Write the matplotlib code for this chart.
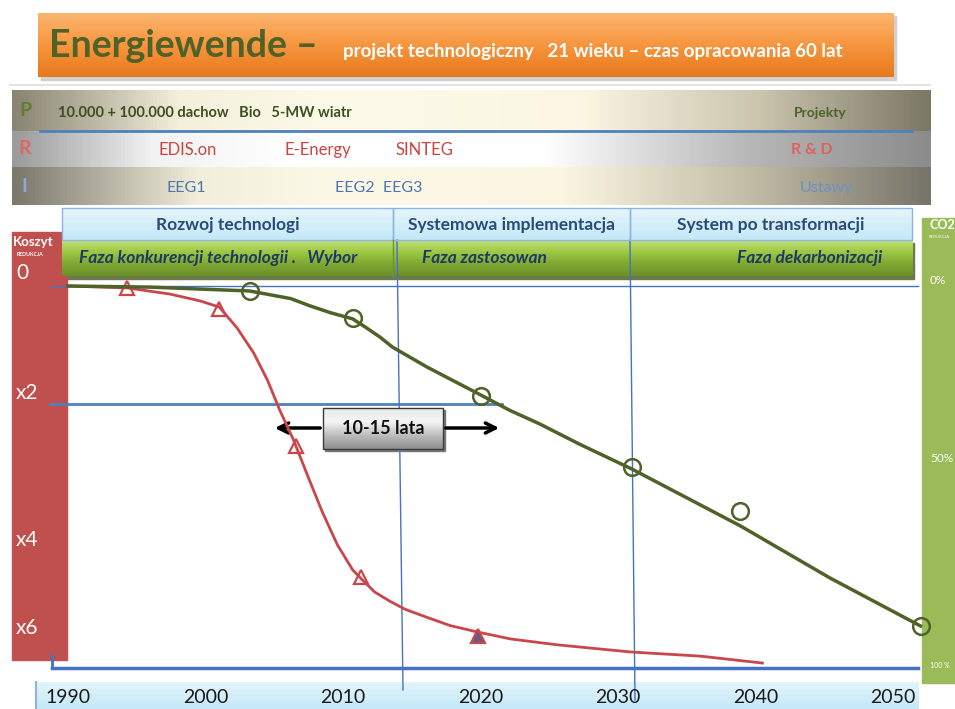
import numpy as np
import matplotlib.pyplot as plt
from matplotlib.colors import LinearSegmentedColormap
from matplotlib.patches import Rectangle

plt.rcParams['font.family'] = ['Lato', 'DejaVu Sans']

# ---- dane ----
lata = [1990, 2000, 2010, 2020, 2030, 2040, 2050]
koszt_lbl = ['0', 'x2', 'x4', 'x6']
co2_lbl = ['0%', '50%', '100 %']
fazy = ['Rozwoj technologi', 'Systemowa implementacja', 'System po transformacji']
fazy2 = ['Faza konkurencji technologii .   Wybor', 'Faza zastosowan', 'Faza dekarbonizacji']

# linia CO2 (zielona) - rok, % redukcji
co2_x = [1990.0, 1996.0, 2003.2, 2006.2, 2007.6, 2009.1, 2010.7, 2011.6, 2012.7, 2013.6,
         2016.1, 2020.0, 2022.1, 2024.3, 2027.2, 2031.0, 2038.9, 2045.4, 2052.0]
co2_y = [0.0, 0.3, 1.3, 3.3, 5.2, 7.0, 8.6, 10.7, 13.4, 16.0,
         21.2, 28.5, 32.5, 36.1, 41.4, 47.9, 62.8, 76.4, 89.0]
co2_pkt_x = [2003.2, 2010.7, 2020.0, 2031.0, 2038.9, 2052.0]
co2_pkt_y = [1.3, 8.4, 28.8, 47.4, 58.9, 89.0]

# linia kosztu (czerwona)
koszt_x = [1990.0, 1994.3, 1997.4, 1999.6, 2001.0, 2002.3, 2003.5, 2004.5, 2005.4, 2006.4,
           2007.5, 2008.5, 2009.6, 2010.7, 2011.4, 2012.3, 2013.4, 2014.5, 2016.0, 2017.8,
           2019.8, 2022.2, 2025.5, 2030.9, 2036.0, 2040.5]
koszt_y = [0.0, 0.5, 2.1, 3.9, 5.5, 11.0, 17.5, 24.6, 32.5, 40.3,
           50.3, 59.2, 67.8, 74.3, 76.9, 80.1, 82.5, 84.6, 86.6, 88.9,
           90.6, 92.4, 93.9, 95.8, 96.9, 98.7]
koszt_pkt_x = [1994.3, 2001.0, 2006.6, 2011.3]
koszt_pkt_y = [0.5, 6.0, 41.9, 76.2]
koszt_pkt2_x = [2019.8]
koszt_pkt2_y = [91.6]


def gradient(ax, x0, x1, y0, y1, colors, vertical=True, z=1):
    cmap = LinearSegmentedColormap.from_list('g', colors)
    g = np.linspace(0, 1, 256)
    img = g.reshape(-1, 1) if vertical else g.reshape(1, -1)
    ax.imshow(img, cmap=cmap, extent=(x0, x1, y1, y0), aspect='auto',
              zorder=z, interpolation='bicubic')


fig = plt.figure(figsize=(9.55, 7.09), dpi=100)
bg = fig.add_axes([0, 0, 1, 1])
bg.axis('off')

# tytul
bg.plot([10, 930], [85, 85], color='#e4e4e4', lw=1.5, zorder=1)
bg.add_patch(Rectangle((41, 16), 855, 64, color='#d0d0d0', zorder=1))
gradient(bg, 38, 893, 13, 77, ['#fbb56e', '#f7963f', '#e8781c'], z=2)
bg.text(49, 46, 'Energiewende \u2013', fontsize=27, fontweight='bold', color='#4f6228',
        va='center', ha='left', zorder=3)
bg.text(343, 51, 'projekt technologiczny   21 wieku \u2013 czas opracowania 60 lat',
        fontsize=13.5, fontweight='bold', color='white', va='center', ha='left', zorder=3)

# pasy P / R / I
gradient(bg, 12, 930, 90, 131, [(0, '#8a8472'), (0.18, '#f4f0dc'), (0.35, '#fdfaea'),
                                 (0.62, '#fbf7e4'), (0.82, '#c9c3ac'), (1, '#7c7866')],
         vertical=False)
gradient(bg, 12, 930, 131, 167, [(0, '#9b9b9b'), (0.15, '#f2f2f2'), (0.3, '#ffffff'),
                                  (0.58, '#ffffff'), (0.8, '#b8b8b8'), (1, '#8c8c8c')],
         vertical=False)
gradient(bg, 12, 930, 167, 205, [(0, '#7c796c'), (0.2, '#f2eedc'), (0.35, '#fdf9e8'),
                                  (0.6, '#fbf6e2'), (0.8, '#c4bea8'), (1, '#77746a')],
         vertical=False)
bg.plot([40, 912], [131, 131], color='#4f81bd', lw=2, zorder=3)

bg.text(25, 111, 'P', fontsize=14, fontweight='bold', color='#5f7f2e', ha='center', va='center', zorder=3)
bg.text(58, 113, '10.000 + 100.000 dachow   Bio   5-MW wiatr', fontsize=10.5, fontweight='bold',
        color='#3f4f1f', ha='left', va='center', zorder=3)
bg.text(820, 113, 'Projekty', fontsize=10, fontweight='bold', color='#4f6228',
        ha='center', va='center', zorder=3)
bg.text(25, 148, 'R', fontsize=14, fontweight='bold', color='#e06666', ha='center', va='center', zorder=3)
for t, x in zip(['EDIS.on', 'E-Energy', 'SINTEG'], [188, 318, 424]):
    bg.text(x, 150, t, fontsize=12, color='#c9453f', ha='center', va='center', zorder=3)
bg.text(812, 150, 'R & D', fontsize=11.5, fontweight='bold', color='#e06060',
        ha='center', va='center', zorder=3)
bg.text(24, 186, 'I', fontsize=14, fontweight='bold', color='#8aa8d4', ha='center', va='center', zorder=3)
bg.text(186, 188, 'EEG1', fontsize=11.5, color='#4f74ad', ha='center', va='center', zorder=3)
bg.text(379, 188, 'EEG2  EEG3', fontsize=11.5, color='#4f74ad', ha='center', va='center', zorder=3)
bg.text(826, 188, 'Ustawy', fontsize=11.5, color='#6f90c4', ha='center', va='center', zorder=3)

# naglowki faz
granice = [62, 393, 630, 912]
for i in range(3):
    gradient(bg, granice[i], granice[i + 1], 208, 240, ['#e6f6fc', '#c4e8f7'], z=2)
    bg.add_patch(Rectangle((granice[i], 208), granice[i + 1] - granice[i], 32, fill=False,
                           ec='#8db3e2', lw=1, zorder=3))
    bg.text((granice[i] + granice[i + 1]) / 2, 225, fazy[i], fontsize=12.5, fontweight='bold',
            color='#2a4a78', ha='center', va='center', zorder=4)
bg.add_patch(Rectangle((64, 243), 850, 36, color='#6b7a4a', zorder=1))
gradient(bg, 62, 912, 240, 276, ['#c3e07a', '#9cc843', '#7fa832', '#6a8f28'], z=2)
bg.plot([393, 393], [240, 276], color='#6f8f3a', lw=1, zorder=3)
bg.text(218, 258, fazy2[0], fontsize=12.5, style='italic', fontweight='bold',
        color='#1f3864', ha='center', va='center', zorder=4)
bg.text(484, 258, fazy2[1], fontsize=12.5, style='italic', fontweight='bold',
        color='#1f3864', ha='center', va='center', zorder=4)
bg.text(882, 258, fazy2[2], fontsize=12.5, style='italic', fontweight='bold',
        color='#1f3864', ha='right', va='center', zorder=4)

# pasek lewy (koszt)
bg.add_patch(Rectangle((12, 232), 55, 428, color='#c0504d', zorder=1))
bg.text(13, 242, 'Koszyt', fontsize=9.5, fontweight='bold', color='white', ha='left', va='center', zorder=3)
bg.text(17, 254, 'REDUKCJA', fontsize=3.8, fontweight='bold', color='white', ha='left', va='center', zorder=3)
for t, y in zip(koszt_lbl, [273, 393, 540, 628]):
    bg.text(16, y, t, fontsize=15, color='white', ha='left', va='center', zorder=3)

# pasek prawy (CO2)
bg.add_patch(Rectangle((922, 218), 40, 465, color='#9bbb59', zorder=1))
bg.text(929, 225, 'CO2', fontsize=9, fontweight='bold', color='white', ha='left', va='center', zorder=3)
bg.text(929, 237, 'REDUKCJA', fontsize=3, color='white', ha='left', va='center', zorder=3)
for t, y, fs in zip(co2_lbl, [281, 458, 666], [8.5, 8.5, 5]):
    bg.text(930, y, t, fontsize=fs, color='white', ha='left', va='center', zorder=3)

# pasek lat
gradient(bg, 36, 918, 682, 709, ['#e2f4fb', '#c6e8f7'], z=1)
bg.plot([36, 36], [682, 709], color='#8db3e2', lw=1.5, zorder=2)

# linie siatki
bg.plot([50, 918], [286, 286], color='#4472c4', lw=1, zorder=2)
bg.plot([50, 502], [404, 404], color='#4f81bd', lw=2, zorder=2)
bg.plot([397, 403], [240, 690], color='#4472c4', lw=1, zorder=2)
bg.plot([630, 635], [240, 700], color='#4472c4', lw=1, zorder=2)
bg.plot([52, 52], [655, 668], color='#4472c4', lw=2, zorder=2)

# 10-15 lata
bg.add_patch(Rectangle((325, 410), 120, 41, color='#777777', zorder=3))
gradient(bg, 323, 443, 408, 449, ['#e9e9e9', '#f5f5f5', '#bdbdbd', '#8e8e8e'], z=4)
bg.add_patch(Rectangle((323, 408), 120, 41, fill=False, ec='#3a3a3a', lw=1, zorder=5))
bg.text(383, 429, '10-15 lata', fontsize=13, fontweight='bold', color='#111111',
        ha='center', va='center', zorder=6)
bg.annotate('', xy=(272, 428), xytext=(323, 428),
            arrowprops=dict(arrowstyle='->', color='black', lw=2.5, mutation_scale=18), zorder=5)
bg.annotate('', xy=(502, 428), xytext=(443, 428),
            arrowprops=dict(arrowstyle='->', color='black', lw=2.5, mutation_scale=18), zorder=5)

bg.set_xlim(0, 955)
bg.set_ylim(709, 0)

# wykres
ax = fig.add_axes([52 / 955, 1 - 668 / 709, 866 / 955, 382 / 709])
ax.set_facecolor('none')
ax.plot(koszt_x, koszt_y, color='#c9474a', lw=2, clip_on=False)
ax.plot(koszt_pkt_x, koszt_pkt_y, ls='none', marker='^', ms=10, mfc='none',
        mec='#c9474a', mew=1.6, clip_on=False)
ax.plot(koszt_pkt2_x, koszt_pkt2_y, ls='none', marker='^', ms=10, mfc='#6a5a80',
        mec='#c9474a', mew=1.6, clip_on=False)
ax.plot(co2_x, co2_y, color='#4f6228', lw=2.5, clip_on=False)
ax.plot(co2_pkt_x, co2_pkt_y, ls='none', marker='o', ms=12, mfc='none',
        mec='#4f6228', mew=1.8, clip_on=False)
ax.set_xlim(1988.836, 2051.818)
ax.set_ylim(100, 0)
for s in ['left', 'right', 'top']:
    ax.spines[s].set_visible(False)
ax.spines['bottom'].set_color('#4472c4')
ax.spines['bottom'].set_linewidth(2.5)
ax.set_yticks([])
ax.set_xticks(lata)
ax.set_xticklabels([str(r) for r in lata], fontsize=14, color='#1a1a1a')
ax.tick_params(axis='x', length=0, pad=15)

fig.savefig('out.png', dpi=100)
